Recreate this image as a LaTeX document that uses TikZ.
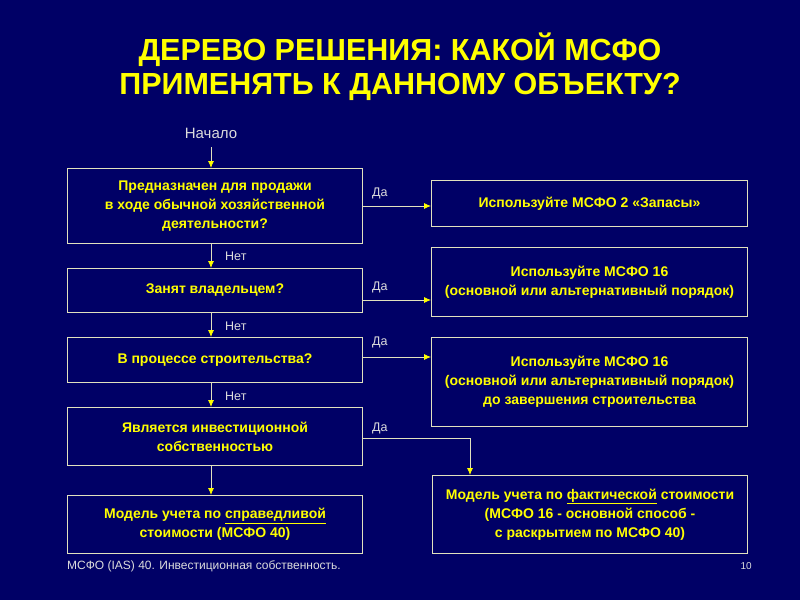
\documentclass[tikz,border=0pt]{standalone}
\usepackage{fontspec}
\setmainfont{Liberation Sans}
\usetikzlibrary{arrows.meta}
\begin{document}
\begin{tikzpicture}[x=1pt,y=-1pt,
 box/.style={draw=boxline,line width=1pt,fill=bg,text=ylw,font=\bfseries\fontsize{14}{19}\selectfont,align=center,inner sep=0pt,anchor=north west},
 lbl/.style={text=lab,font=\fontsize{12.5}{14}\selectfont,anchor=west,inner sep=0pt},
 conn/.style={draw=boxline,line width=0.8pt,-{Latex[length=7pt,width=6pt,fill=ylw,color=ylw]}}]
\definecolor{bg}{RGB}{0,0,102}
\definecolor{ylw}{RGB}{255,255,0}
\definecolor{boxline}{RGB}{225,225,190}
\definecolor{lab}{RGB}{220,220,220}
\useasboundingbox[fill=bg] (0,0) rectangle (800,600);
\node[text=ylw,font=\bfseries\fontsize{30.5}{34}\selectfont,align=center] (title) at (400,67) {ДЕРЕВО РЕШЕНИЯ: КАКОЙ МСФО\\ПРИМЕНЯТЬ К ДАННОМУ ОБЪЕКТУ?};
\node[text=lab,font=\fontsize{15}{16}\selectfont] (start) at (211,133) {Начало};
\node[box,minimum width=295,minimum height=75] (b1) at (67,168) {Предназначен для продажи\\в ходе обычной хозяйственной\\деятельности?};
\node[box,minimum width=295,minimum height=44] (b2) at (67,268) {Занят владельцем?};
\node[box,minimum width=295,minimum height=45] (b3) at (67,337) {В процессе строительства?};
\node[box,minimum width=295,minimum height=58] (b4) at (67,407) {Является инвестиционной\\собственностью};
\node[box,minimum width=295,minimum height=58] (b5) at (67,495) {\mbox{Модель учета по \underline{справедливой}}\\стоимости (МСФО 40)};
\node[box,minimum width=316,minimum height=46] (r1) at (431,180) {Используйте МСФО 2 «Запасы»};
\node[box,minimum width=316,minimum height=69] (r2) at (431,247) {Используйте МСФО 16\\(основной или альтернативный порядок)};
\node[box,minimum width=316,minimum height=89] (r3) at (431,337) {Используйте МСФО 16\\(основной или альтернативный порядок)\\до завершения строительства};
\node[box,minimum width=315,minimum height=78] (r4) at (432,475) {\mbox{Модель учета по \underline{фактической} стоимости}\\(МСФО 16 - основной способ -\\с раскрытием по МСФО 40)};
\coordinate (s0) at (211,147);
\draw[conn] (s0) -- (211,168);
\draw[conn] (211,243) -- (211,268);
\draw[conn] (211,312) -- (211,337);
\draw[conn] (211,382) -- (211,407);
\draw[conn] (211,465) -- (211,495);
\draw[conn] (b1.east|-0,206) -- (r1.west|-0,206);
\draw[conn] (b2.east|-0,300) -- (r2.west|-0,300);
\draw[conn] (b3.east|-0,357) -- (r3.west|-0,357);
\draw[conn] (b4.east|-0,438) -- (470,438) -- (470,475);
\node[lbl] (d1) at (372,193) {Да};
\node[lbl] (d2) at (372,287) {Да};
\node[lbl] (d3) at (372,342) {Да};
\node[lbl] (d4) at (372,428) {Да};
\node[lbl] (n1) at (225,256) {Нет};
\node[lbl] (n2) at (225,326) {Нет};
\node[lbl] (n3) at (225,396) {Нет};
\node[text=lab,font=\fontsize{12}{13}\selectfont,anchor=west,inner sep=0pt] (foot) at (67,566) {МСФО (IAS) 40. Инвестиционная собственность.};
\node[text=lab,font=\fontsize{10}{12}\selectfont,anchor=east,inner sep=0pt] (pg) at (752,566) {10};
\end{tikzpicture}
\end{document}
